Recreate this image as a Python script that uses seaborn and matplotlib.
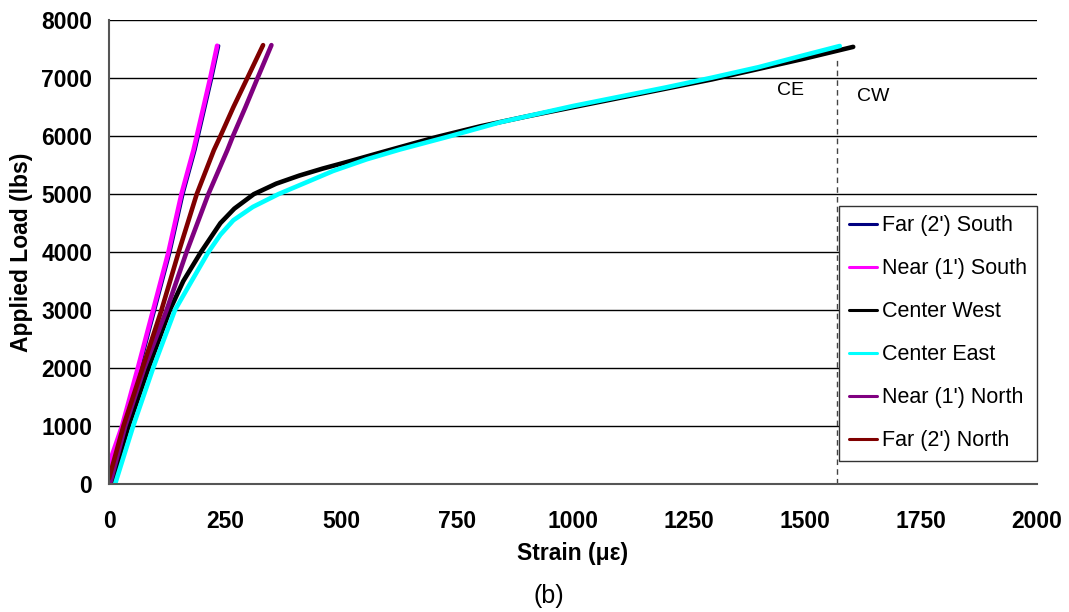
import matplotlib
matplotlib.use("Agg")
import matplotlib.pyplot as plt
import seaborn as sns
import pandas as pd

# ---- data ----
series_names = ["Far (2') South", "Near (1') South", "Center West",
                "Center East", "Near (1') North", "Far (2') North"]
series_colors = ["#000080", "#FF00FF", "#000000", "#00FFFF", "#800080", "#800000"]

far_south_strain = [0, 31, 66, 99, 132, 160, 186, 193, 222, 237]
far_south_load = [100, 1000, 2000, 3000, 4000, 5000, 5759, 6000, 7000, 7560]

near_south_strain = [0, 0, 28, 62, 95, 128, 156, 182, 189, 218, 233]
near_south_load = [0, 350, 1000, 2000, 3000, 4000, 5000, 5759, 6000, 7000, 7560]

center_west_strain = [5, 42, 85, 131, 160, 198, 240, 270, 312, 360, 410, 460,
                      520, 600, 706, 800, 900, 1000, 1100, 1200, 1300, 1400,
                      1500, 1604]
center_west_load = [0, 1000, 2000, 3000, 3500, 4000, 4500, 4750, 5000, 5180,
                    5320, 5440, 5570, 5750, 5985, 6170, 6340, 6500, 6660, 6820,
                    6980, 7160, 7340, 7540]

center_east_strain = [13, 52, 95, 142, 175, 214, 240, 268, 310, 365, 433, 483,
                      555, 627, 735, 843, 1000, 1100, 1200, 1300, 1400, 1500,
                      1575]
center_east_load = [0, 1000, 2000, 3000, 3460, 4000, 4300, 4550, 4780, 5000,
                    5230, 5400, 5600, 5770, 6000, 6240, 6520, 6680, 6840, 7010,
                    7190, 7400, 7555]

near_north_strain = [2, 35, 76, 124, 167, 214, 255, 267, 294, 320, 350]
near_north_load = [0, 1000, 2000, 3000, 4000, 5000, 5759, 6000, 6500, 7000, 7570]

far_north_strain = [0, 31, 72, 113, 150, 189, 226, 240, 268, 298, 332]
far_north_load = [100, 1000, 2000, 3000, 4000, 5000, 5759, 6000, 6500, 7000, 7570]

x_ticks = [0, 250, 500, 750, 1000, 1250, 1500, 1750, 2000]
y_ticks = [0, 1000, 2000, 3000, 4000, 5000, 6000, 7000, 8000]
marker_x = 1569
marker_top = 7310
ce_label = ("CE", 1440, 6793)
cw_label = ("CW", 1612, 6680)

strains = [far_south_strain, near_south_strain, center_west_strain,
           center_east_strain, near_north_strain, far_north_strain]
loads = [far_south_load, near_south_load, center_west_load,
         center_east_load, near_north_load, far_north_load]

frames = []
for name, s, l in zip(series_names, strains, loads):
    frames.append(pd.DataFrame({"Strain": s, "Load": l, "Gauge": name}))
df = pd.concat(frames, ignore_index=True)

# ---- plot ----
sns.set_theme(style="white")
plt.rcParams["font.family"] = ["Liberation Sans", "DejaVu Sans"]
plt.rcParams["text.color"] = "black"
plt.rcParams["axes.labelcolor"] = "black"
plt.rcParams["xtick.labelcolor"] = "black"
plt.rcParams["ytick.labelcolor"] = "black"

fig = plt.figure(figsize=(10.69, 6.12), dpi=100)
ax = fig.add_axes([0.102, 0.209, 0.868, 0.758])

palette = dict(zip(series_names, series_colors))
widths = {n: 3.3 for n in series_names}
widths["Far (2') South"] = 2.0
for name in series_names:
    sub = df[df["Gauge"] == name]
    sns.lineplot(data=sub, x="Strain", y="Load", color=palette[name],
                 lw=widths[name], sort=False, estimator=None, ax=ax,
                 legend=False, solid_joinstyle="round", solid_capstyle="round")

ax.plot([marker_x, marker_x], [0, marker_top], ls=(0, (4, 3)), color="#444444", lw=1.0)
for txt, xx, yy in [ce_label, cw_label]:
    ax.text(xx, yy, txt, fontsize=14, ha="left", va="center", color="black")

ax.set_xlim(0, 2000)
ax.set_ylim(0, 8000)
ax.set_xticks(x_ticks)
ax.set_yticks(y_ticks)
ax.yaxis.grid(True, color="black", lw=1.0)
ax.xaxis.grid(False)
ax.set_axisbelow(True)
for sp in ["top", "right"]:
    ax.spines[sp].set_visible(False)
for sp in ["left", "bottom"]:
    ax.spines[sp].set_color("#555555")
    ax.spines[sp].set_linewidth(1.5)
ax.tick_params(axis="both", which="both", direction="out", length=6, width=1.2,
               color="#555555", labelsize=16.5, labelcolor="black")
ax.tick_params(axis="y", pad=6)
ax.tick_params(axis="x", pad=13)
for lab in ax.get_xticklabels() + ax.get_yticklabels():
    lab.set_fontweight("bold")

ax.set_xlabel("Strain (\u03bc\u03b5)", fontsize=16.5, fontweight="bold", labelpad=6)
ax.set_ylabel("Applied Load (lbs)", fontsize=16.5, fontweight="bold", labelpad=6)

handles = [plt.Line2D([], [], color=c, lw=2.2) for c in series_colors]
leg = ax.legend(handles, series_names, loc="lower right",
                bbox_to_anchor=(1.0, 0.05), fontsize=15.5, frameon=True,
                fancybox=False, edgecolor="#333333", framealpha=1,
                handlelength=1.3, handletextpad=0.25, labelspacing=1.02,
                borderpad=0.45, borderaxespad=0)
leg.get_frame().set_linewidth(1.0)

fig.text(0.513, 0.026, "(b)", fontsize=18, ha="center", va="center")

fig.savefig("out.png", dpi=100)
